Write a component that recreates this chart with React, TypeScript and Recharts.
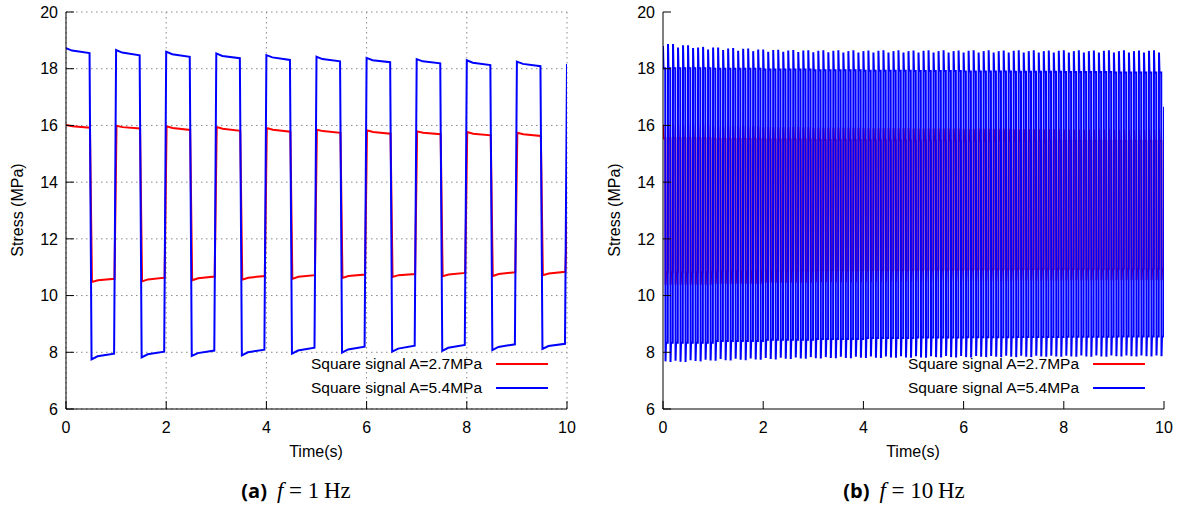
import React from 'react';
import { LineChart, Line, XAxis, YAxis, CartesianGrid, Legend } from 'recharts';

const FONT = '"Liberation Sans", Arial, sans-serif';
const SERIF = '"Liberation Serif", "Times New Roman", serif';

const xTicks = [0, 2, 4, 6, 8, 10];
const yTicks = [6, 8, 10, 12, 14, 16, 18, 20];
const seriesNames = ['Square signal A=2.7MPa', 'Square signal A=5.4MPa'];

// ---- f = 1 Hz : one value per cycle (10 cycles) ----
const redHiStart1 = [16.02, 15.99, 15.97, 15.94, 15.91, 15.85, 15.83, 15.79, 15.77, 15.74];
const redHiKnee1 = [15.97, 15.94, 15.91, 15.88, 15.85, 15.8, 15.77, 15.74, 15.71, 15.69];
const redHiEnd1 = [15.92, 15.89, 15.84, 15.81, 15.78, 15.74, 15.71, 15.69, 15.65, 15.63];
const redLoStart1 = [10.48, 10.5, 10.54, 10.56, 10.59, 10.62, 10.66, 10.68, 10.69, 10.72];
const redLoKnee1 = [10.54, 10.57, 10.61, 10.63, 10.66, 10.69, 10.72, 10.74, 10.76, 10.78];
const redLoEnd1 = [10.59, 10.63, 10.67, 10.69, 10.72, 10.74, 10.76, 10.8, 10.82, 10.84];
const redLast1 = 12.7;

const blueHiStart1 = [18.72, 18.66, 18.6, 18.54, 18.48, 18.42, 18.38, 18.34, 18.3, 18.25];
const blueHiKnee1 = [18.64, 18.57, 18.51, 18.45, 18.4, 18.34, 18.3, 18.26, 18.21, 18.17];
const blueHiEnd1 = [18.55, 18.47, 18.42, 18.37, 18.31, 18.26, 18.23, 18.19, 18.13, 18.09];
const blueLoStart1 = [7.75, 7.82, 7.87, 7.89, 7.95, 7.99, 8.02, 8.05, 8.08, 8.12];
const blueLoKnee1 = [7.86, 7.93, 7.97, 8.0, 8.06, 8.1, 8.13, 8.16, 8.19, 8.22];
const blueLoEnd1 = [7.95, 8.02, 8.06, 8.09, 8.16, 8.2, 8.23, 8.26, 8.28, 8.3];
const blueLast1 = 18.17;

// ---- f = 10 Hz : spikes per cycle (100 cycles), plateaus per second ----
const blueTop10 = [
  18.8, 18.87, 18.87, 18.75, 18.83, 18.83, 18.73, 18.75, 18.77, 18.68,
  18.75, 18.75, 18.66, 18.71, 18.73, 18.63, 18.7, 18.71, 18.62, 18.68,
  18.68, 18.6, 18.66, 18.67, 18.6, 18.64, 18.66, 18.59, 18.64, 18.65,
  18.58, 18.63, 18.65, 18.58, 18.63, 18.65, 18.57, 18.62, 18.65, 18.57,
  18.62, 18.64, 18.57, 18.63, 18.65, 18.57, 18.62, 18.65, 18.57, 18.62,
  18.64, 18.57, 18.63, 18.65, 18.57, 18.62, 18.65, 18.57, 18.62, 18.64,
  18.57, 18.63, 18.65, 18.57, 18.62, 18.65, 18.57, 18.62, 18.64, 18.57,
  18.63, 18.65, 18.57, 18.62, 18.65, 18.57, 18.62, 18.64, 18.57, 18.63,
  18.65, 18.57, 18.62, 18.65, 18.57, 18.62, 18.64, 18.57, 18.63, 18.65,
  18.57, 18.62, 18.65, 18.57, 18.62, 18.64, 18.57, 18.63, 18.65, 18.57,
];
const blueBottom10 = [
  7.68, 7.66, 7.7, 7.67, 7.66, 7.72, 7.69, 7.68, 7.74, 7.71,
  7.7, 7.76, 7.72, 7.71, 7.77, 7.74, 7.72, 7.78, 7.75, 7.74,
  7.8, 7.76, 7.75, 7.81, 7.77, 7.76, 7.82, 7.78, 7.77, 7.83,
  7.79, 7.78, 7.83, 7.8, 7.79, 7.84, 7.8, 7.79, 7.84, 7.81,
  7.8, 7.85, 7.81, 7.8, 7.85, 7.82, 7.81, 7.86, 7.82, 7.81,
  7.86, 7.82, 7.81, 7.86, 7.83, 7.82, 7.87, 7.83, 7.82, 7.87,
  7.83, 7.82, 7.87, 7.84, 7.83, 7.87, 7.84, 7.83, 7.88, 7.84,
  7.83, 7.88, 7.84, 7.83, 7.88, 7.85, 7.84, 7.88, 7.85, 7.84,
  7.88, 7.85, 7.84, 7.89, 7.85, 7.84, 7.89, 7.85, 7.84, 7.89,
  7.86, 7.85, 7.89, 7.86, 7.85, 7.89, 7.86, 7.85, 7.89, 7.86,
];
const blueHiPlateau10 = [18.02, 18.0, 17.97, 17.95, 17.93, 17.92, 17.9, 17.89, 17.88, 17.87];
const blueLoPlateau10 = [8.34, 8.4, 8.44, 8.47, 8.5, 8.52, 8.53, 8.54, 8.55, 8.56];
const blueLast10 = 16.66;

const redTop10 = [16.02, 15.97, 15.94, 15.92, 15.9, 15.89, 15.88, 15.87, 15.86, 15.85];
const redHiPlateau10 = [15.55, 15.52, 15.5, 15.49, 15.48, 15.47, 15.46, 15.46, 15.45, 15.45];
const redBottom10 = [10.38, 10.42, 10.45, 10.47, 10.49, 10.5, 10.51, 10.52, 10.53, 10.54];
const redLoPlateau10 = [10.82, 10.86, 10.88, 10.9, 10.91, 10.92, 10.93, 10.94, 10.94, 10.95];
const redLast10 = 13.4;

type Pt = { t: number; v: number };

// sample times inside one period (fraction of the period)
const phase1 = [0, 0.12, 0.47, 0.51, 0.63, 0.96];
const phase10 = [0, 0.1, 0.45, 0.5, 0.6, 0.95];

// per-cycle arrays are read directly, per-second arrays hold for every cycle of that second
const pick = (arr: number[], k: number, cycles: number) =>
  arr.length === cycles ? arr[k] : arr[Math.floor((k * arr.length) / cycles)];

function build(cols: number[][], cycles: number, phase: number[], shift: number, last: number): Pt[] {
  const period = 10 / cycles;
  const out: Pt[] = [];
  for (let k = 0; k < cycles; k++) {
    cols.forEach((col, j) => {
      const t = k * period + phase[j] * period + (k === 0 && j === 0 ? 0 : shift);
      out.push({ t, v: pick(col, k, cycles) });
    });
  }
  out.push({ t: 10, v: last });
  return out;
}

const red1 = build([redHiStart1, redHiKnee1, redHiEnd1, redLoStart1, redLoKnee1, redLoEnd1], 10, phase1, 0.008, redLast1);
const blue1 = build([blueHiStart1, blueHiKnee1, blueHiEnd1, blueLoStart1, blueLoKnee1, blueLoEnd1], 10, phase1, 0, blueLast1);
const red10 = build([redTop10, redHiPlateau10, redHiPlateau10, redBottom10, redLoPlateau10, redLoPlateau10], 100, phase10, 0.002, redLast10);
const blue10 = build([blueTop10, blueHiPlateau10, blueHiPlateau10, blueBottom10, blueLoPlateau10, blueLoPlateau10], 100, phase10, 0, blueLast10);

const tickStyle = { fontFamily: FONT, fontSize: 16, fill: '#000' };

const KeyBox = ({ payload }: any) => (
  <div style={{ fontFamily: FONT, fontSize: 15.5, color: '#000' }}>
    {(payload || []).map((e: any) => (
      <div key={e.value} style={{ display: 'flex', alignItems: 'center', justifyContent: 'flex-end', height: 24 }}>
        <span>{e.value}</span>
        <svg width={66} height={6}>
          <line x1={14} y1={3} x2={66} y2={3} stroke={e.color} strokeWidth={2} />
        </svg>
      </div>
    ))}
  </div>
);

function Panel({ red, blue, width, grid, lw }: { red: Pt[]; blue: Pt[]; width: number; grid: boolean; lw: number }) {
  return (
    <LineChart width={width} height={460} margin={{ top: 12, right: width - 567, bottom: 21, left: 26 }}>
      {grid && <CartesianGrid stroke="#888" strokeDasharray="1.5 3.5" />}
      <Line data={red} dataKey="v" name={seriesNames[0]} stroke="#ff0000" strokeWidth={lw} dot={false} isAnimationActive={false} />
      <Line data={blue} dataKey="v" name={seriesNames[1]} stroke="#0000ff" strokeWidth={lw} dot={false} isAnimationActive={false} />
      <XAxis dataKey="t" type="number" domain={[0, 10]} ticks={xTicks} allowDataOverflow height={30}
        tick={tickStyle} tickSize={-8} tickMargin={21} stroke="#000" />
      <XAxis xAxisId="top" orientation="top" type="number" domain={[0, 10]} ticks={xTicks} allowDataOverflow height={0}
        tick={false} tickSize={-8} stroke="#000" />
      <YAxis type="number" domain={[6, 20]} ticks={yTicks} allowDataOverflow width={40}
        tick={tickStyle} tickSize={-8} tickMargin={16} stroke="#000" />
      <YAxis yAxisId="right" orientation="right" type="number" domain={[6, 20]} ticks={yTicks} allowDataOverflow width={0}
        tick={false} tickSize={-8} stroke="#000" />
      <Legend layout="vertical" align="center" verticalAlign="middle" content={<KeyBox />}
        wrapperStyle={{ left: 288, top: 352, width: 260 }} />
    </LineChart>
  );
}

const abs = (s: React.CSSProperties): React.CSSProperties => ({ position: 'absolute', ...s });

function Caption({ cx, tag, hz }: { cx: number; tag: string; hz: string }) {
  return (
    <div style={abs({ left: cx - 150, top: 477, width: 300, textAlign: 'center', whiteSpace: 'nowrap' })}>
      <span style={{ fontFamily: '"Open Sans", sans-serif', fontWeight: 700, fontSize: 20 }}>({tag})</span>
      <span style={{ fontFamily: SERIF, fontSize: 23, marginLeft: 10 }}>
        <i>f</i> = {hz}{'\u2009'}Hz
      </span>
    </div>
  );
}

function AxisTitles({ dx }: { dx: number }) {
  return (
    <>
      <div style={abs({ left: dx + 316 - 60, top: 443, width: 120, textAlign: 'center', fontFamily: FONT, fontSize: 16 })}>Time(s)</div>
      <div style={abs({ left: dx + 18 - 100, top: 200, width: 200, height: 20, lineHeight: '20px', textAlign: 'center',
        fontFamily: FONT, fontSize: 16, transform: 'rotate(-90deg)' })}>Stress (MPa)</div>
    </>
  );
}

export default function App() {
  return (
    <div style={abs({ left: 0, top: 0, width: 1178, height: 510, background: '#fff', overflow: 'hidden' })}>
      <div style={abs({ left: 0, top: 0 })}>
        <Panel red={red1} blue={blue1} width={590} grid lw={2} />
      </div>
      <div style={abs({ left: 597, top: 0 })}>
        <Panel red={red10} blue={blue10} width={581} grid={false} lw={2} />
      </div>
      <AxisTitles dx={0} />
      <AxisTitles dx={597} />
      <Caption cx={296} tag="a" hz="1" />
      <Caption cx={904} tag="b" hz="10" />
    </div>
  );
}
